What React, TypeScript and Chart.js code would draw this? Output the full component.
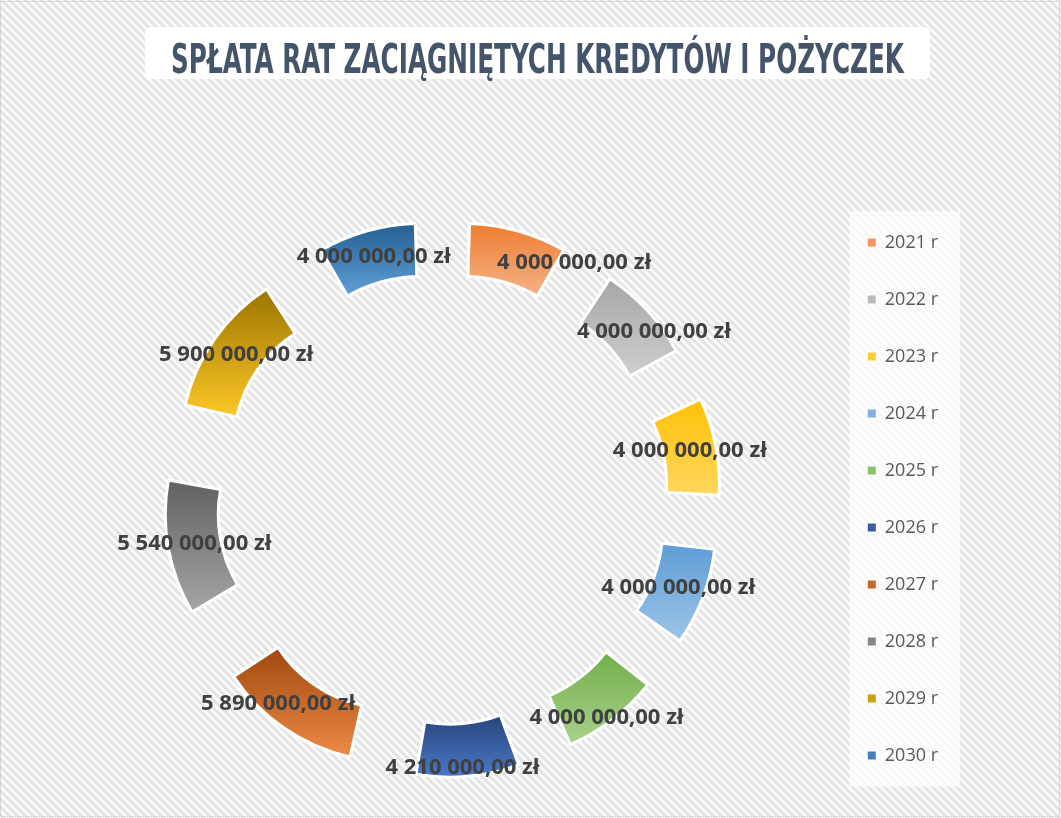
import React, { useEffect, useRef } from 'react';
import { Chart, registerables } from 'chart.js';

Chart.register(...registerables);

const TITLE = 'SPŁATA RAT ZACIĄGNIĘTYCH KREDYTÓW I POŻYCZEK';
const categories = ['2021 r', '2022 r', '2023 r', '2024 r', '2025 r', '2026 r', '2027 r', '2028 r', '2029 r', '2030 r'];
const values = [4000000, 4000000, 4000000, 4000000, 4000000, 4210000, 5890000, 5540000, 5900000, 4000000];

const topColors = ['#ED7D31', '#A5A5A5', '#FFC000', '#5B9BD5', '#70AD47', '#264478', '#9E480E', '#5F5F5F', '#997300', '#255E91'];
const bottomColors = ['#F5B48A', '#D0D0D0', '#FFD966', '#A0C6E8', '#AAD38F', '#4A78C8', '#EE8A45', '#A8A8A8', '#FFC928', '#62A2DA'];
const labelNudges = [[63, 6], [26, 3], [0, 0], [0, 0], [10, 19], [-3, 18], [-21, -3], [0, 0], [0, 0], [0, 0]];

const RADIAL_SHIFT = 115;
const total = values.reduce((a, b) => a + b, 0);

function fmt(v: number): string {
  const [i, d] = v.toFixed(2).split('.');
  return i.replace(/\B(?=(\d{3})+(?!\d))/g, ' ') + ',' + d + ' zł';
}

function hexMix(a: string, b: string): string {
  const pa = [1, 3, 5].map((k) => parseInt(a.slice(k, k + 2), 16));
  const pb = [1, 3, 5].map((k) => parseInt(b.slice(k, k + 2), 16));
  return 'rgb(' + pa.map((v, k) => Math.round((v + pb[k]) / 2)).join(',') + ')';
}

function arcGeometry(arc: any) {
  const p = arc.getProps(['x', 'y', 'startAngle', 'endAngle', 'innerRadius', 'outerRadius', 'circumference'], true);
  const off = (arc.options.offset || 0) / 4;
  const fix = 1 - Math.sin(Math.min(Math.PI, p.circumference || 0));
  const mid = (p.startAngle + p.endAngle) / 2;
  return {
    ...p,
    mid,
    push: off * fix,
    dx: Math.cos(mid) * off,
    dy: Math.sin(mid) * off,
    tx: p.x + Math.cos(mid) * off,
    ty: p.y + Math.sin(mid) * off,
  };
}

let hatchPattern: CanvasPattern | null = null;
function getHatch(ctx: CanvasRenderingContext2D): CanvasPattern | null {
  if (hatchPattern) return hatchPattern;
  const c = document.createElement('canvas');
  c.width = 8;
  c.height = 8;
  const g = c.getContext('2d')!;
  const img = g.createImageData(8, 8);
  for (let y = 0; y < 8; y++) {
    for (let x = 0; x < 8; x++) {
      const k = (((x - y) % 8) + 8) % 8;
      const v = k < 4 ? 228 : 250;
      const idx = (y * 8 + x) * 4;
      img.data[idx] = v;
      img.data[idx + 1] = v;
      img.data[idx + 2] = v;
      img.data[idx + 3] = 255;
    }
  }
  g.putImageData(img, 0, 0);
  hatchPattern = ctx.createPattern(c, 'repeat');
  return hatchPattern;
}

const decorPlugin = {
  id: 'decor',
  beforeDraw(chart: any) {
    const { ctx, width, height } = chart;
    ctx.save();
    ctx.fillStyle = '#ffffff';
    ctx.fillRect(0, 0, width, height);
    const pat = getHatch(ctx);
    if (pat) {
      ctx.fillStyle = pat;
      ctx.fillRect(0, 0, width, height);
    }
    ctx.strokeStyle = '#d9d9d9';
    ctx.lineWidth = 1;
    ctx.strokeRect(0.5, 1.5, width - 2, height - 3);

    // title box
    const bx = 145, by = 27, bw = 785, bh = 52;
    ctx.fillStyle = '#ffffff';
    ctx.beginPath();
    (ctx as any).roundRect(bx, by, bw, bh, 6);
    ctx.fill();
    ctx.fillStyle = '#44546A';
    ctx.font = 'bold 40px "DejaVu Sans Condensed", "DejaVu Sans", sans-serif';
    try {
      (ctx as any).fontStretch = 'condensed';
    } catch (e) {
      /* ignore */
    }
    ctx.textAlign = 'center';
    ctx.textBaseline = 'alphabetic';
    ctx.fillText(TITLE, bx + bw / 2, 73, 733);

    // legend background
    const legend = chart.legend;
    if (legend && legend.legendHitBoxes && legend.legendHitBoxes.length) {
      const hb = legend.legendHitBoxes;
      const first = hb[0];
      const last = hb[hb.length - 1];
      const left = first.left - 18;
      const top = first.top + first.height / 2 - 31;
      const bottom = last.top + last.height / 2 + 31;
      ctx.fillStyle = 'rgba(255,255,255,0.72)';
      ctx.fillRect(left, top, 110, bottom - top);
    }
    ctx.restore();
  },
  beforeDatasetsDraw(chart: any) {
    const { ctx } = chart;
    const meta = chart.getDatasetMeta(0);
    meta.data.forEach((arc: any, i: number) => {
      const g = arcGeometry(arc);
      let ymin = Infinity, ymax = -Infinity;
      const n = 32;
      for (let k = 0; k <= n; k++) {
        const a = g.startAngle + (g.endAngle - g.startAngle) * (k / n);
        for (const r of [g.innerRadius + g.push, g.outerRadius + g.push]) {
          const yy = g.y + Math.sin(a) * r; // in the arc's translated frame
          ymin = Math.min(ymin, yy);
          ymax = Math.max(ymax, yy);
        }
      }
      const grad = ctx.createLinearGradient(0, ymin, 0, ymax);
      grad.addColorStop(0, topColors[i]);
      grad.addColorStop(1, bottomColors[i]);
      try {
        arc.options.backgroundColor = grad;
      } catch (e) {
        /* ignore */
      }
    });
  },
  afterDatasetsDraw(chart: any) {
    const { ctx } = chart;
    const meta = chart.getDatasetMeta(0);
    ctx.save();
    ctx.font = 'bold 22px "Open Sans"';
    ctx.fillStyle = '#404040';
    ctx.textAlign = 'center';
    ctx.textBaseline = 'middle';
    meta.data.forEach((arc: any, i: number) => {
      const g = arcGeometry(arc);
      const r = (g.innerRadius + g.outerRadius) / 2 + g.push;
      const x = g.tx + Math.cos(g.mid) * r + labelNudges[i][0];
      const y = g.ty + Math.sin(g.mid) * r + labelNudges[i][1];
      ctx.fillText(fmt(values[i]), x, y);
    });
    ctx.restore();
  },
};

export default function App() {
  const canvasRef = useRef<HTMLCanvasElement | null>(null);

  useEffect(() => {
    const canvas = canvasRef.current;
    if (!canvas) return;
    const chart = new Chart(canvas, {
      type: 'doughnut',
      data: {
        labels: categories,
        datasets: [
          {
            data: values,
            backgroundColor: topColors,
            borderColor: '#ffffff',
            borderWidth: 3,
            hoverOffset: 0,
            offset: (ctx: any) => {
              const v = values[ctx.dataIndex] ?? 0;
              const circ = (v / total) * 2 * Math.PI;
              const fix = 1 - Math.sin(Math.min(Math.PI, circ));
              return (4 * RADIAL_SHIFT) / (1 + fix);
            },
          } as any,
        ],
      },
      options: {
        responsive: false,
        animation: false,
        radius: 163.5,
        cutout: '67.6%',
        layout: { padding: { top: 180, bottom: 0, left: 56, right: 113 } },
        plugins: {
          title: { display: false },
          tooltip: { enabled: false },
          legend: {
            position: 'right',
            align: 'center',
            labels: {
              boxWidth: 8,
              boxHeight: 8,
              padding: 39,
              color: '#595959',
              font: { family: 'Open Sans', size: 18 },
              generateLabels: () =>
                categories.map((c, i) => ({
                  text: c,
                  fillStyle: hexMix(topColors[i], bottomColors[i]),
                  strokeStyle: 'rgba(0,0,0,0)',
                  lineWidth: 0,
                  hidden: false,
                  index: i,
                  fontColor: '#595959',
                })),
            },
          },
        },
      } as any,
      plugins: [decorPlugin],
    });
    return () => chart.destroy();
  }, []);

  return (
    <div style={{ position: 'fixed', left: 0, top: 0, width: 1061, height: 818 }}>
      <canvas ref={canvasRef} width={1061} height={818} style={{ display: 'block', width: 1061, height: 818 }} />
    </div>
  );
}
